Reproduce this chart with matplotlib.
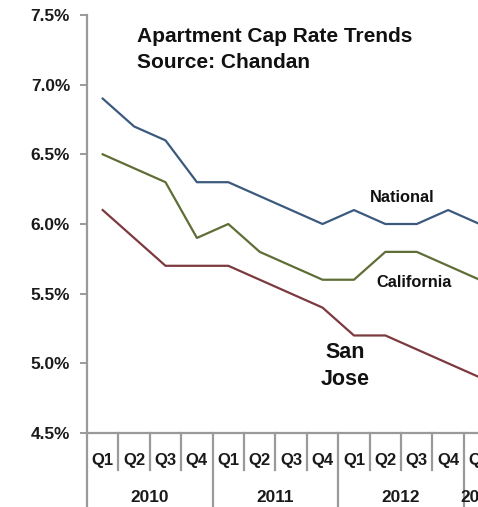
import matplotlib
matplotlib.use("Agg")
import matplotlib.pyplot as plt
import matplotlib.transforms as mtransforms

plt.rcParams['font.family'] = ['Liberation Sans', 'DejaVu Sans']
plt.rcParams['font.weight'] = 'bold'

quarters = ["Q1", "Q2", "Q3", "Q4", "Q1", "Q2", "Q3", "Q4",
            "Q1", "Q2", "Q3", "Q4", "Q1"]
years = ["2010", "2011", "2012", "2013"]
year_quarters = [4, 4, 4, 1]

national = [6.9, 6.7, 6.6, 6.3, 6.3, 6.2, 6.1, 6.0, 6.1, 6.0, 6.0, 6.1, 6.0]
california = [6.5, 6.4, 6.3, 5.9, 6.0, 5.8, 5.7, 5.6, 5.6, 5.8, 5.8, 5.7, 5.6]
san_jose = [6.1, 5.9, 5.7, 5.7, 5.7, 5.6, 5.5, 5.4, 5.2, 5.2, 5.1, 5.0, 4.9]

y_ticks = [4.5, 5.0, 5.5, 6.0, 6.5, 7.0, 7.5]

W, H = 478, 507
fig = plt.figure(figsize=(W / 100, H / 100), dpi=100)
left, right, top, bottom = 87, 478, 15, 433
ax = fig.add_axes([left / W, 1 - bottom / H, (right - left) / W, (bottom - top) / H])


def px(xp, yp):
    """Pixel position (from top-left) to figure fraction."""
    return xp / W, 1 - yp / H


x = list(range(len(quarters)))
ax.plot(x, national, color="#3b5a7e", lw=1.6)
ax.plot(x, california, color="#5e6e36", lw=1.6)
ax.plot(x, san_jose, color="#7c3a3e", lw=1.6)

ax.set_xlim(-0.5, 11.95)
ax.set_ylim(4.5, 7.5)

axis_gray = "#9a9a9a"
text_col = "#1a1a1a"
for s in ["top", "right"]:
    ax.spines[s].set_visible(False)
for s in ["left", "bottom"]:
    ax.spines[s].set_color(axis_gray)
    ax.spines[s].set_linewidth(1.6)

ax.set_yticks(y_ticks)
ax.set_yticklabels([f"{v:.1f}%" for v in y_ticks], fontsize=12.4,
                   fontweight="bold", color=text_col)
ax.tick_params(axis="y", length=5, width=1.4, color=axis_gray, pad=7.2)
ax.set_xticks([])

# category axis: quarter separators and year group separators
trans = mtransforms.blended_transform_factory(ax.transData, ax.transAxes)
ax_h = bottom - top
q_len = (470 - bottom) / ax_h
y_len = (H - bottom + 2) / ax_h
pos = -0.5
for n in year_quarters:
    ax.plot([pos, pos], [0, -y_len], transform=trans, color=axis_gray, lw=1.6,
            clip_on=False)
    for k in range(1, n):
        ax.plot([pos + k, pos + k], [0, -q_len], transform=trans, color=axis_gray,
                lw=1.6, clip_on=False)
    pos += n
ax.plot([pos, pos], [0, -y_len], transform=trans, color=axis_gray, lw=1.6,
        clip_on=False)

for i, q in enumerate(quarters):
    ax.text(i, -(465 - bottom) / ax_h, q, transform=trans, ha="center",
            va="baseline", fontsize=12, fontweight="bold", color=text_col,
            clip_on=False)

start = 0
for yr, n in zip(years, year_quarters):
    cx = start + (n - 1) / 2
    ax.text(cx, -(502 - bottom) / ax_h, yr, transform=trans, ha="center",
            va="baseline", fontsize=12.4, fontweight="bold", color=text_col,
            clip_on=False)
    start += n

fig.text(*px(137, 42), "Apartment Cap Rate Trends", ha="left", va="baseline",
         fontsize=15, fontweight="bold", color="#111111")
fig.text(*px(137, 68), "Source: Chandan", ha="left", va="baseline",
         fontsize=15, fontweight="bold", color="#111111")

fig.text(*px(402, 202), "National", ha="center", va="baseline",
         fontsize=11.8, fontweight="bold", color="#111111")
fig.text(*px(414.5, 287), "California", ha="center", va="baseline",
         fontsize=11.8, fontweight="bold", color="#111111")
fig.text(*px(345, 358), "San", ha="center", va="baseline",
         fontsize=15.5, fontweight="bold", color="#111111")
fig.text(*px(345, 385), "Jose", ha="center", va="baseline",
         fontsize=15.5, fontweight="bold", color="#111111")

fig.savefig("out.png", dpi=100)
